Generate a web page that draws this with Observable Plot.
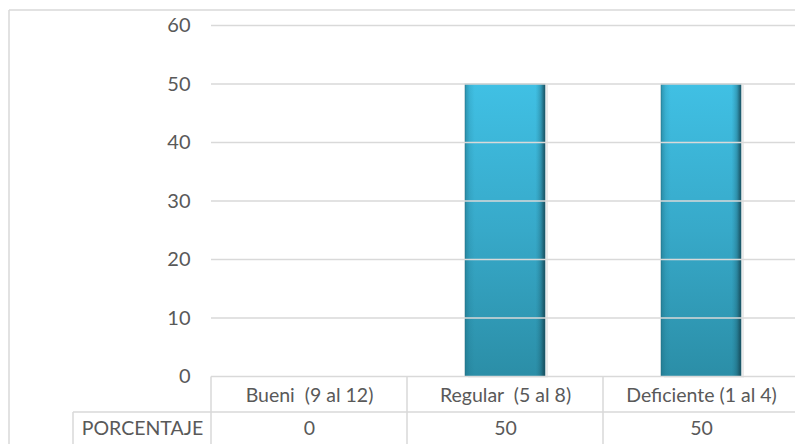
<!DOCTYPE html>
<html>
<head>
<meta charset="utf-8">
<script src="https://cdn.jsdelivr.net/npm/d3@7"></script>
<script src="https://cdn.jsdelivr.net/npm/@observablehq/plot@0.6"></script>
<style>
  html, body { margin: 0; padding: 0; background: #fff; }
  svg text { white-space: pre; }
</style>
</head>
<body>
<div id="chart"></div>
<script>
const categories = ["Bueni  (9 al 12)", "Regular  (5 al 8)", "Deficiente (1 al 4)"];
const values = [0, 50, 50];
const rowLabel = "PORCENTAJE";
const yTicks = [0, 10, 20, 30, 40, 50, 60];

const data = categories.map((c, i) => ({cat: c, value: values[i]}));
const barData = data.filter(d => d.value > 0);
const lineColor = "#d9d9d9";
const textColor = "#595959";
const fs = 19.5;

const defs = () => {
  const ns = "http://www.w3.org/2000/svg";
  const d = document.createElementNS(ns, "defs");
  d.innerHTML = `
    <linearGradient id="gv" x1="0" y1="0" x2="0" y2="1">
      <stop offset="0" stop-color="#40c0e4"/>
      <stop offset="0.5" stop-color="#37a9c9"/>
      <stop offset="1" stop-color="#2b8ea7"/>
    </linearGradient>
    <linearGradient id="gh" x1="0" y1="0" x2="1" y2="0">
      <stop offset="0" stop-color="#1d6f84" stop-opacity="0.55"/>
      <stop offset="0.06" stop-color="#1d6f84" stop-opacity="0.15"/>
      <stop offset="0.12" stop-color="#1d6f84" stop-opacity="0"/>
      <stop offset="0.88" stop-color="#1d6f84" stop-opacity="0"/>
      <stop offset="0.95" stop-color="#123f4c" stop-opacity="0.3"/>
      <stop offset="1" stop-color="#123f4c" stop-opacity="0.85"/>
    </linearGradient>
    <linearGradient id="gtop" x1="0" y1="0" x2="0" y2="1">
      <stop offset="0" stop-color="#8af4ff"/>
      <stop offset="0.6" stop-color="#5fd8f0" stop-opacity="0.6"/>
      <stop offset="1" stop-color="#40c0e4" stop-opacity="0"/>
    </linearGradient>`;
  return d;
};

const tableLines = (index, scales, values, dims) => {
  const ns = "http://www.w3.org/2000/svg";
  const g = document.createElementNS(ns, "g");
  const x = scales.x, y = scales.y;
  const step = x.step();
  const bw = x.bandwidth();
  const y0 = y(0);
  const row1 = y0 + 35.5, row2 = dims.height;
  const left = dims.marginLeft, right = dims.width;
  const labelLeft = left - 138;
  const segs = [];
  // outer chart border
  segs.push([9, 10, dims.width, 10]);
  segs.push([9, 10, 9, dims.height]);
  // gridlines (above the bars)
  yTicks.forEach(t => segs.push([left, y(t), right, y(t)]));
  // table horizontal lines
  segs.push([labelLeft, row1, right, row1]);
  // table vertical lines
  segs.push([labelLeft, row1, labelLeft, row2]);
  categories.forEach(c => {
    const xl = x(c) + bw / 2 - step / 2;
    segs.push([xl, y0, xl, row2]);
  });
  segs.forEach(([x1, y1, x2, y2]) => {
    const l = document.createElementNS(ns, "line");
    l.setAttribute("x1", x1); l.setAttribute("y1", y1);
    l.setAttribute("x2", x2); l.setAttribute("y2", y2);
    l.setAttribute("stroke", lineColor);
    l.setAttribute("stroke-width", 1.5);
    g.appendChild(l);
  });
  return g;
};

const chart = Plot.plot({
  width: 795,
  height: 444,
  marginLeft: 211,
  marginRight: -4,
  marginTop: 25.5,
  marginBottom: 67.5,
  style: {fontFamily: "Lato, 'Open Sans', sans-serif", fontSize: fs + "px", color: textColor, background: "#fff"},
  x: {domain: categories, paddingInner: 0.59, paddingOuter: 0.295, axis: null},
  y: {domain: [0, 60], axis: null},
  marks: [
    defs,
    Plot.axisY({ticks: yTicks, tickSize: 0, tickPadding: 21, label: null, fill: textColor, fontSize: fs + 0.5}),
    // drop shadow
    Plot.barY(barData, {x: "cat", y: "value", fill: "#000", fillOpacity: 0.08, dx: 3, dy: 1}),
    Plot.barY(barData, {x: "cat", y: "value", fill: "url(#gv)"}),
    Plot.barY(barData, {x: "cat", y: "value", fill: "url(#gh)"}),
    Plot.tickY(barData, {x: "cat", y: "value", stroke: "url(#gtop)", strokeWidth: 7, dy: 3.5, inset: 2}),
    Plot.barY(barData, {x: "cat", y: "value", fill: "none", stroke: "#1f6a7d", strokeOpacity: 0.5, strokeWidth: 1}),
    tableLines,
    Plot.text(data, {x: "cat", y: () => 0, text: "cat", dy: 19, fill: textColor, fontSize: fs}),
    Plot.text(data, {x: "cat", y: () => 0, text: d => String(d.value), dy: 52, fill: textColor, fontSize: fs}),
    Plot.text([rowLabel], {frameAnchor: "bottom-left", lineAnchor: "middle", text: d => d, dx: -69, dy: 52, textAnchor: "middle", fill: textColor, fontSize: fs})
  ]
});
document.getElementById("chart").appendChild(chart);
</script>
</body>
</html>
